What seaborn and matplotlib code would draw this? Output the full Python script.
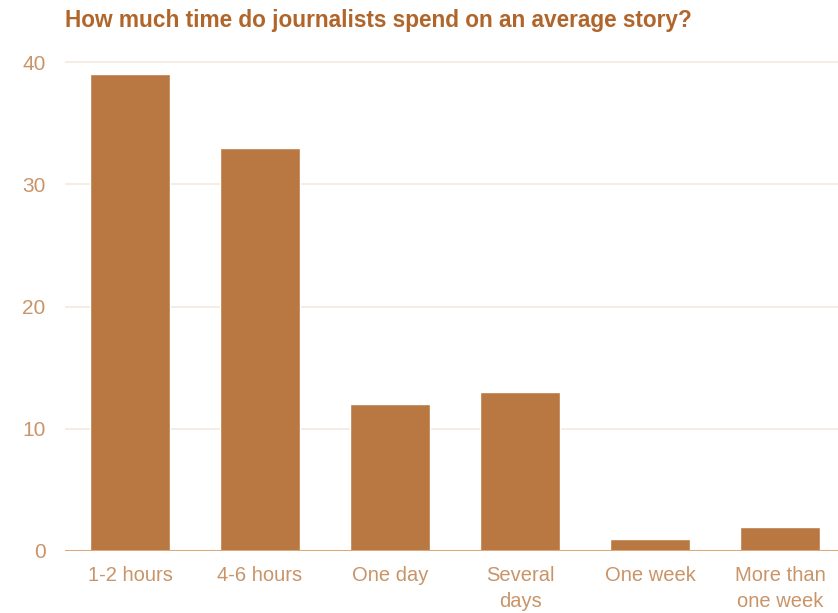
import pandas as pd
import numpy as np
import matplotlib
matplotlib.use("Agg")
import matplotlib.pyplot as plt
import seaborn as sns

categories = ["1-2 hours", "4-6 hours", "One day", "Several\ndays", "One week", "More than\none week"]
values = [39, 33, 12, 13, 1, 2]
yticks = [0, 10, 20, 30, 40]

df = pd.DataFrame({"time": categories, "share": values})

sns.set_style("white")
plt.rcParams["font.family"] = ["Liberation Sans", "DejaVu Sans"]

bar_color = "#B97841"
tick_color = "#C99468"
title_color = "#B0652A"

fig = plt.figure(figsize=(8.38, 6.13), dpi=100)
ax = fig.add_axes([65 / 838, 62 / 613, 780 / 838, 501 / 613])

sns.barplot(data=df, x="time", y="share", color=bar_color, width=0.615,
            saturation=1, ax=ax, zorder=3)

ax.set_xlim(-0.5, 5.5)
ax.set_ylim(0, 41)
ax.set_yticks(yticks)
ax.yaxis.grid(True, color="#F3E9DF", linewidth=1.2, zorder=0)
ax.axhline(0, color="#DDA87C", linewidth=1.5, zorder=4)

for s in ax.spines.values():
    s.set_visible(False)

ax.tick_params(axis="both", length=0, colors=tick_color)
ax.tick_params(axis="y", pad=14, labelsize=15)
ax.tick_params(axis="x", pad=11, labelsize=14.5)
for lbl in ax.get_xticklabels():
    lbl.set_linespacing(1.45)
ax.set_xlabel("")
ax.set_ylabel("")

fig.text(65 / 838, 1 - 20 / 613, "How much time do journalists spend on an average story?",
         color=title_color, fontsize=16.3, fontweight="bold", va="center", ha="left")

plt.savefig("out.png", dpi=100)
